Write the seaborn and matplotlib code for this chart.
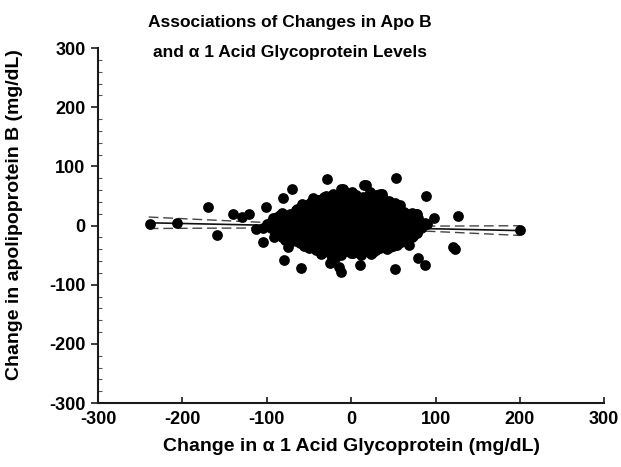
import numpy as np
import pandas as pd
import matplotlib
matplotlib.use("Agg")
import matplotlib.pyplot as plt
import seaborn as sns
from matplotlib.ticker import MultipleLocator

sns.set_style("ticks")
plt.rcParams['font.family'] = ['Liberation Sans', 'DejaVu Sans']
plt.rcParams['font.weight'] = 'bold'

# ---- data ----
# scattered points outside the dense core
out_agp = [-238, -206, -170, -159, -140, -130, -121, -113, -104, -101, -93, -92, -105,
           -81, -70, -80, -59, -49, -39, -29, -25, -12, -12, -10, 17, 36, 53, 58, 89,
           77, 98, 88, 127, 200, 121, 123, 79, 87, 52, 69, 54, 11, -19, -15, 1, 34, 15, 69, 78,
           -66, -58, -75]
out_apob = [3, 4, 31, -16, 19, 15, 19, -6, -4, 31, 13, -19, -27,
            46, 61, -58, -72, 33, 44, 79, -64, 61, -78, 62, 68, 53, 81, 35, 50,
            19, 12, 4, 17, -8, -37, -39, -55, -67, -73, -33, -33, -67, -54, -70, 57, 54, 68, 20, 19,
            27, 36, -37]

# dense core (first pass)
core_agp = [
    -22, -8, 6, 22,
    -45, -32, -18, -4, 9, 24, 38,
    -48, -35, -22, -10, 3, 16, 28, 41, 52,
    -56, -44, -31, -19, -6, 7, 19, 31, 44, 57,
    -82, -58, -46, -34, -22, -9, 3, 15, 27, 39, 51, 63, 72,
    -88, -76, -63, -51, -39, -27, -15, -3, 9, 21, 33, 45, 57, 68, 79,
    -95, -84, -71, -59, -47, -35, -23, -11, 1, 13, 25, 37, 49, 61, 72, 82,
    -92, -80, -68, -56, -44, -32, -20, -8, 4, 16, 28, 40, 52, 64, 75, 84,
    -88, -76, -64, -52, -40, -28, -16, -4, 8, 20, 32, 44, 56, 68, 79,
    -84, -71, -59, -47, -35, -23, -11, 1, 13, 25, 37, 49, 61, 73,
    -78, -66, -54, -42, -30, -18, -6, 6, 18, 30, 42, 54, 66,
    -56, -44, -32, -20, -8, 4, 16, 28, 40, 50,
    -42, -30, -18, -6, 6, 18, 30, 42,
    -36, -24, -12, 0, 12, 24]
core_apob = [
    54, 58, 52, 56,
    46, 49, 45, 48, 47, 44, 46,
    40, 41, 38, 40, 39, 41, 37, 40, 38,
    32, 29, 33, 31, 30, 32, 29, 31, 33, 30,
    22, 21, 25, 23, 22, 24, 23, 21, 24, 22, 25, 23, 21,
    14, 16, 13, 17, 15, 14, 16, 15, 13, 16, 14, 17, 15, 14, 12,
    6, 8, 5, 9, 7, 6, 8, 7, 5, 8, 6, 9, 7, 6, 8, 5,
    -2, 0, -1, 1, -3, -1, 0, -2, -1, 1, -2, 0, -1, -3, 0, -2,
    -8, -10, -9, -7, -11, -9, -8, -10, -9, -7, -10, -8, -11, -9, -7,
    -16, -18, -17, -15, -19, -17, -16, -18, -17, -15, -18, -16, -19, -17,
    -24, -26, -25, -23, -27, -25, -24, -26, -25, -23, -26, -24, -27,
    -34, -33, -31, -35, -33, -32, -34, -33, -31, -34,
    -42, -41, -39, -43, -41, -40, -42, -39,
    -48, -50, -49, -47, -50, -48]

# dense core (points between the rows above)
fill_agp = [
    -30, -15, 0, 14, 30,
    -39, -25, -11, 2, 16, 31, 45,
    -50, -38, -25, -13, 0, 13, 25, 37, 50,
    -64, -52, -40, -28, -16, -3, 10, 22, 34, 46, 58,
    -84, -72, -59, -47, -35, -22, -10, 2, 14, 26, 38, 50, 62, 74,
    -92, -80, -67, -55, -43, -31, -19, -7, 5, 17, 29, 41, 53, 65, 77,
    -100, -88, -76, -63, -51, -39, -27, -15, -3, 9, 21, 33, 45, 57, 69, 80, 90,
    -95, -83, -71, -59, -47, -35, -23, -11, 1, 13, 25, 37, 49, 61, 73, 83,
    -90, -78, -66, -54, -42, -30, -18, -6, 6, 18, 30, 42, 54, 66, 78,
    -82, -70, -58, -46, -34, -22, -10, 2, 14, 26, 38, 50, 62, 72,
    -73, -61, -49, -37, -25, -13, -1, 11, 23, 35, 47, 59,
    -50, -38, -26, -14, -2, 10, 22, 34, 46,
    -34, -22, -10, 2, 14, 26]
fill_apob = [
    50, 52, 51, 49, 52,
    44, 43, 41, 44, 42, 43, 41,
    36, 35, 33, 36, 34, 35, 33, 36, 34,
    28, 27, 25, 28, 26, 27, 25, 28, 26, 27, 25,
    18, 20, 19, 17, 20, 18, 19, 17, 20, 18, 19, 17, 20, 18,
    10, 12, 11, 9, 12, 10, 11, 9, 12, 10, 11, 9, 12, 10, 11,
    2, 4, 3, 1, 4, 2, 3, 1, 4, 2, 3, 1, 4, 2, 3, 1, 3,
    -4, -6, -5, -3, -6, -4, -5, -3, -6, -4, -5, -3, -6, -4, -5, -4,
    -12, -14, -13, -11, -14, -12, -13, -11, -14, -12, -13, -11, -14, -12, -13,
    -20, -22, -21, -19, -22, -20, -21, -19, -22, -20, -21, -19, -22, -20,
    -28, -30, -29, -27, -30, -28, -29, -27, -30, -28, -29, -27,
    -38, -37, -35, -38, -36, -37, -35, -38, -36,
    -46, -45, -43, -46, -44, -45]

# regression line and confidence band
fit_x = [-240, 200]
fit_y = [4.7, -8.5]
band_x = [-240, -180, -120, -60, 0, 60, 120, 200]
band_upper = [14.4, 10.3, 6.4, 2.7, 0.0, -0.9, -0.8, -0.3]
band_lower = [-5.0, -4.5, -4.2, -4.1, -5.0, -7.7, -11.4, -16.7]

x_ticks = [-300, -200, -100, 0, 100, 200, 300]
y_ticks = [-300, -200, -100, 0, 100, 200, 300]

df = pd.DataFrame({'agp': out_agp + core_agp + fill_agp,
                   'apob': out_apob + core_apob + fill_apob})

fig = plt.figure(figsize=(6.21, 4.67), dpi=100)
ax = fig.add_axes([0.158, 0.137, 0.815, 0.760])

ax.plot(band_x, band_upper, color='#444444', lw=1.0, ls=(0, (7, 3.5)), zorder=1)
ax.plot(band_x, band_lower, color='#444444', lw=1.0, ls=(0, (7, 3.5)), zorder=1)
ax.plot(fit_x, fit_y, color='#111111', lw=1.2, zorder=1)
sns.scatterplot(data=df, x='agp', y='apob', color='black', s=60, linewidth=0,
                ax=ax, legend=False, zorder=2)

ax.set_xlim(-300, 300)
ax.set_ylim(-300, 300)
ax.set_xticks(x_ticks)
ax.set_yticks(y_ticks)
ax.yaxis.set_minor_locator(MultipleLocator(20))
ax.set_xticklabels([str(v) for v in x_ticks], fontsize=13, fontweight='bold')
ax.set_yticklabels([str(v) for v in y_ticks], fontsize=13, fontweight='bold')

for s in ['top', 'right']:
    ax.spines[s].set_visible(False)
for s in ['left', 'bottom']:
    ax.spines[s].set_linewidth(1.5)
    ax.spines[s].set_color('#1a1a1a')

ax.tick_params(axis='x', which='major', direction='in', length=4, width=1.2, pad=6,
               color='#1a1a1a', labelcolor='black')
ax.tick_params(axis='y', which='major', direction='out', length=5, width=1.2, pad=4,
               color='#1a1a1a', labelcolor='black')
ax.tick_params(axis='y', which='minor', direction='in', length=3, width=0.8, color='#555555')

ax.set_xlabel('Change in α 1 Acid Glycoprotein (mg/dL)', fontsize=14, fontweight='bold',
              labelpad=7, color='black')
ax.set_ylabel('Change in apolipoprotein B (mg/dL)', fontsize=14, fontweight='bold', color='black')
ax.yaxis.set_label_coords(-0.148, 0.53)

fig.text(0.467, 1 - 23 / 467, 'Associations of Changes in Apo B', ha='center', va='center',
         fontsize=12.5, fontweight='bold', color='black')
fig.text(0.467, 1 - 52 / 467, 'and α 1 Acid Glycoprotein Levels', ha='center', va='center',
         fontsize=12.5, fontweight='bold', color='black')

fig.savefig('out.png', dpi=100)
